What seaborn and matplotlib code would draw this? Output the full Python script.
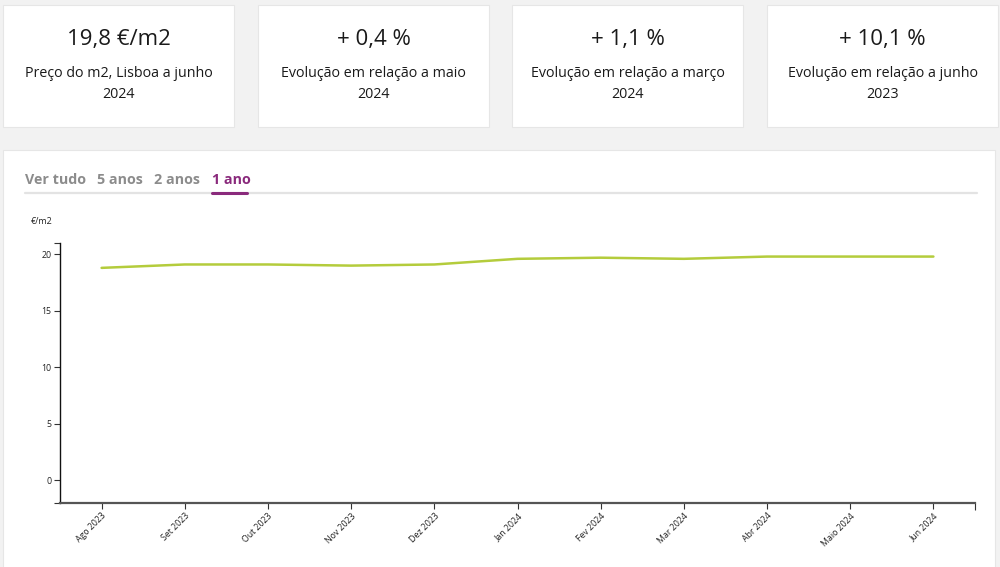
import numpy as np
import pandas as pd
import matplotlib
matplotlib.use("Agg")
import matplotlib.pyplot as plt
from matplotlib.patches import Rectangle
from matplotlib.lines import Line2D
import seaborn as sns

# values (€/m2, Lisboa)
months = ["Ago 2023", "Set 2023", "Out 2023", "Nov 2023", "Dez 2023", "Jan 2024",
          "Fev 2024", "Mar 2024", "Abr 2024", "Maio 2024", "Jun 2024"]
price = [18.8, 19.1, 19.1, 19.0, 19.1, 19.6, 19.7, 19.6, 19.8, 19.8, 19.8]
y_ticks = [0, 5, 10, 15, 20]

card_values = ["19,8 €/m2", "+ 0,4 %", "+ 1,1 %", "+ 10,1 %"]
card_labels = ["Preço do m2, Lisboa a junho\n2024", "Evolução em relação a maio\n2024",
               "Evolução em relação a março\n2024", "Evolução em relação a junho\n2023"]
tabs = ["Ver tudo", "5 anos", "2 anos", "1 ano"]

sns.set_style("white")
plt.rcParams["font.family"] = ["Open Sans", "DejaVu Sans"]

W, H = 1000, 567
fig = plt.figure(figsize=(W / 100, H / 100), dpi=100)
fig.patch.set_facecolor("#f2f2f2")


def px_rect(x0, y0, x1, y1, **kw):
    # rectangle given in pixel coords (origin top-left)
    r = Rectangle((x0 / W, 1 - y1 / H), (x1 - x0) / W, (y1 - y0) / H,
                  transform=fig.transFigure, zorder=-5, **kw)
    fig.add_artist(r)


def px_text(x, y, s, **kw):
    fig.text(x / W, 1 - y / H, s, **kw)


# summary cards
card_x = [3, 258, 512, 767]
for cx, val, lab in zip(card_x, card_values, card_labels):
    px_rect(cx, 5, cx + 231, 127, facecolor="white", edgecolor="#e6e6e6", lw=0.8)
    mid = cx + 115.5
    px_text(mid, 39, val, ha="center", va="center", fontsize=16, color="#1a1a1a")
    px_text(mid, 84, lab, ha="center", va="center", fontsize=10.3, color="#1a1a1a",
            linespacing=1.55)

# chart panel
px_rect(3, 150, 995, 570, facecolor="white", edgecolor="#e6e6e6", lw=0.8)

# tabs
tab_x = [25, 97, 154, 212]
for tx, t in zip(tab_x, tabs):
    col = "#8a2a7c" if t == "1 ano" else "#8c8c8c"
    px_text(tx, 180, t, ha="left", va="center", fontsize=10.3, fontweight="bold", color=col)
fig.add_artist(Line2D([25 / W, 977 / W], [1 - 193 / H] * 2, color="#e3e3e3", lw=1.6,
                      transform=fig.transFigure, zorder=-4))
fig.add_artist(Line2D([212 / W, 247 / W], [1 - 193 / H] * 2, color="#8a2a7c", lw=2.2,
                      transform=fig.transFigure, zorder=-3))

# line chart
ax = fig.add_axes([60 / W, 1 - 503 / H, 915 / W, 260 / H])
ax.set_zorder(2)
ax.patch.set_alpha(0)
df = pd.DataFrame({"x": np.arange(len(months)), "price": price})
sns.lineplot(data=df, x="x", y="price", ax=ax, color="#b4cc3c", lw=1.8)

ax.set_xlim(-0.5, len(months) - 0.5)
ax.set_ylim(-2, 21)
ax.set_xticks(np.arange(len(months)))
ax.set_xticklabels(months, rotation=45, ha="right", rotation_mode="anchor", fontsize=6.3,
                   color="#222222")
ax.set_yticks(y_ticks)
ax.set_yticklabels([str(v) for v in y_ticks], fontsize=6.3, color="#222222")
ax.set_yticks([-2, 21], minor=True)
ax.set_xticks([len(months) - 0.5], minor=True)
ax.tick_params(axis="both", which="both", length=4, width=0.8, color="#333333", pad=2,
               bottom=True, left=True)
ax.tick_params(axis="x", which="minor", length=5)
ax.set_xlabel("")
ax.set_ylabel("")
for s in ["top", "right"]:
    ax.spines[s].set_visible(False)
ax.spines["left"].set_color("#111111")
ax.spines["left"].set_linewidth(1.0)
ax.spines["bottom"].set_color("#555555")
ax.spines["bottom"].set_linewidth(1.6)
ax.grid(False)

px_text(42, 222, "€/m2", ha="center", va="center", fontsize=6.5, color="#222222")

fig.savefig("out.png", dpi=100, facecolor=fig.get_facecolor())
plt.close(fig)
